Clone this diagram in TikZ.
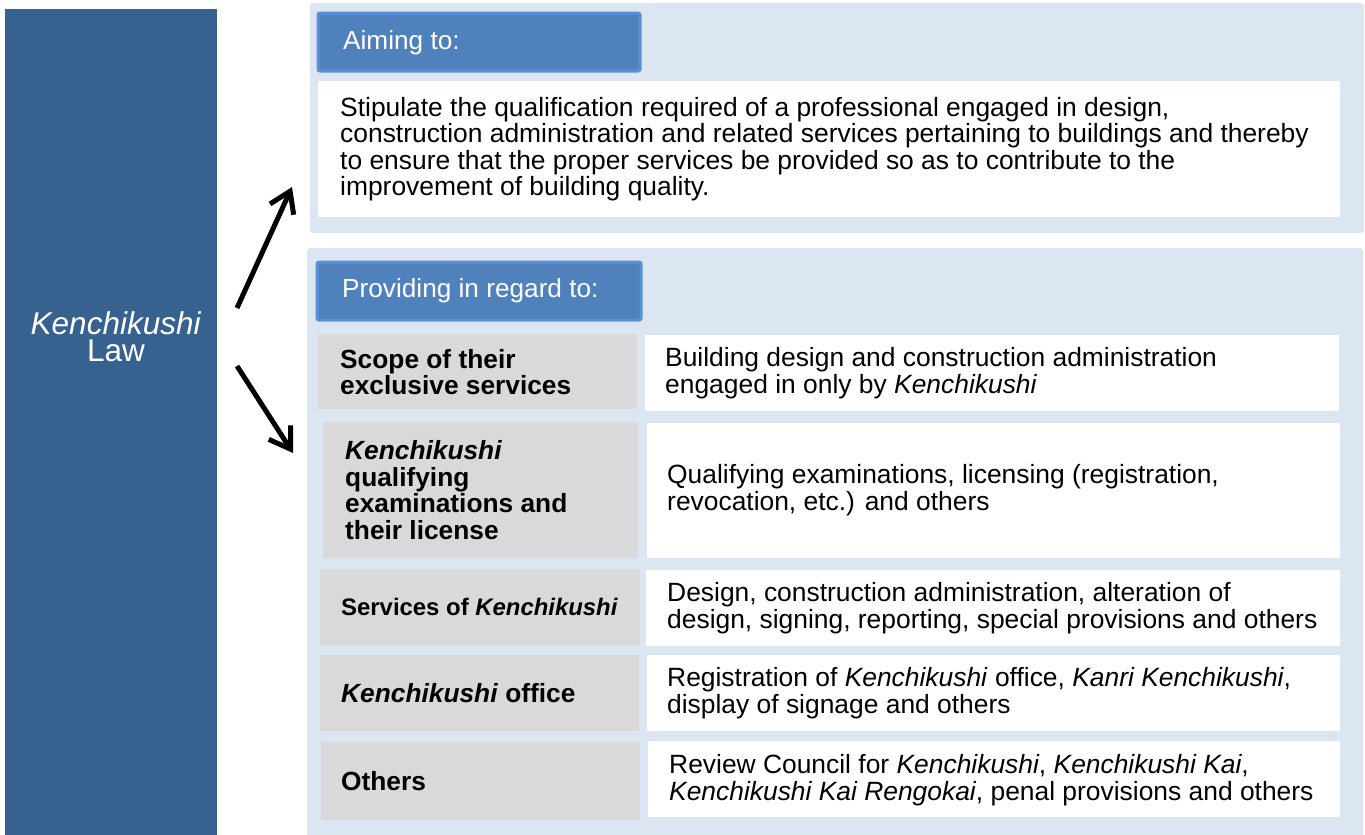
\documentclass[tikz,border=0pt]{standalone}
\usepackage{fontspec}
\setmainfont{Liberation Sans}
\usetikzlibrary{arrows.meta}
\definecolor{lawblue}{HTML}{37618F}
\definecolor{panelblue}{HTML}{DCE6F2}
\definecolor{headfill}{HTML}{4F81BD}
\definecolor{headline}{HTML}{5A90D8}
\definecolor{labelgray}{HTML}{D9D9D9}
\tikzset{
  box/.style={anchor=north west, inner sep=0pt, outer sep=0pt},
  panel/.style={box, fill=panelblue, rounded corners=3pt},
  header/.style={box, fill=headfill, draw=headline, line width=3pt, rounded corners=2pt},
  whitebox/.style={box, fill=white},
  graybox/.style={box, fill=labelgray},
  body/.style={anchor=west, align=left, inner sep=0pt, font=\fontsize{26.4}{26.5}\selectfont},
  label/.style={body, font=\fontsize{26.3}{26.5}\selectfont\bfseries},
  headtext/.style={anchor=west, inner sep=0pt, text=white, font=\fontsize{26.2}{26}\selectfont},
  arrow/.style={line width=5pt, -{Straight Barb[length=20pt, width=26pt, line width=5pt]}}
}
\begin{document}
\begin{tikzpicture}[x=1pt,y=-1pt]
\useasboundingbox (0,0) rectangle (1365,835);
% left block
\node[box, fill=lawblue, minimum width=212pt, minimum height=826pt] (law) at (5,9) {};
\node[align=center, text=white, inner sep=0pt, font=\fontsize{31.5}{27}\selectfont] (lawtext) at (116,337) {\textit{Kenchikushi}\\Law};
% top panel
\node[panel, minimum width=1054pt, minimum height=230pt] (p1) at (310,3) {};
\node[header, minimum width=322pt, minimum height=58pt] (h1) at (318,13) {};
\node[headtext] (h1t) at (343,42.5) {Aiming to:};
\node[whitebox, minimum width=1022pt, minimum height=136pt] (aim) at (318,81) {};
\node[body] (aimt) at (340,149) {Stipulate the qualification required of a professional engaged in design,\\construction administration and related services pertaining to buildings and thereby\\to ensure that the proper services be provided so as to contribute to the\\improvement of building quality.};
% bottom panel
\node[panel, minimum width=1056pt, minimum height=590pt] (p2) at (307,248) {};
\node[header, minimum width=324pt, minimum height=58pt] (h2) at (317,262) {};
\node[headtext] (h2t) at (342,291) {Providing in regard to:};
% row 1
\node[graybox, minimum width=319pt, minimum height=75pt] (g1) at (318,334) {};
\node[whitebox, minimum width=694pt, minimum height=76pt] (w1) at (645,335) {};
\node[label] (g1t) at (340,372) {Scope of their\\exclusive services};
\node[body] (w1t) at (665,373) {Building design and construction administration\\engaged in only by \textit{Kenchikushi}};
% row 2
\node[graybox, minimum width=315pt, minimum height=136pt] (g2) at (323,422) {};
\node[whitebox, minimum width=693pt, minimum height=135pt] (w2) at (647,423) {};
\node[label] (g2t) at (345,490) {\textit{Kenchikushi}\\qualifying\\examinations and\\their license};
\node[body] (w2t) at (667,490) {Qualifying examinations, licensing (registration,\\revocation, etc.) and others};
% row 3
\node[graybox, minimum width=320pt, minimum height=76pt] (g3) at (320,569) {};
\node[whitebox, minimum width=694pt, minimum height=76pt] (w3) at (646,570) {};
\node[label, font=\fontsize{23.9}{26}\selectfont\bfseries] (g3t) at (341,607) {Services of \textit{Kenchikushi}};
\node[body] (w3t) at (667,608) {Design, construction administration, alteration of\\design, signing, reporting, special provisions and others};
% row 4
\node[graybox, minimum width=319pt, minimum height=76pt] (g4) at (320,655) {};
\node[whitebox, minimum width=693pt, minimum height=76pt] (w4) at (647,655) {};
\node[label] (g4t) at (341,693) {\textit{Kenchikushi} office};
\node[body] (w4t) at (667,693) {Registration of \textit{Kenchikushi} office, \textit{Kanri Kenchikushi},\\display of signage and others};
% row 5
\node[graybox, minimum width=319pt, minimum height=78pt] (g5) at (321,742) {};
\node[whitebox, minimum width=692pt, minimum height=76pt] (w5) at (648,741) {};
\node[label] (g5t) at (341,781) {Others};
\node[body] (w5t) at (669,780) {Review Council for \textit{Kenchikushi}, \textit{Kenchikushi Kai},\\\textit{Kenchikushi Kai Rengokai}, penal provisions and others};
% arrows
\coordinate (a1s) at (237,308);
\coordinate (a1e) at (292,187);
\coordinate (a2s) at (237,366);
\coordinate (a2e) at (293,453);
\draw[arrow] (a1s) -- (a1e);
\draw[arrow] (a2s) -- (a2e);
\end{tikzpicture}
\end{document}
